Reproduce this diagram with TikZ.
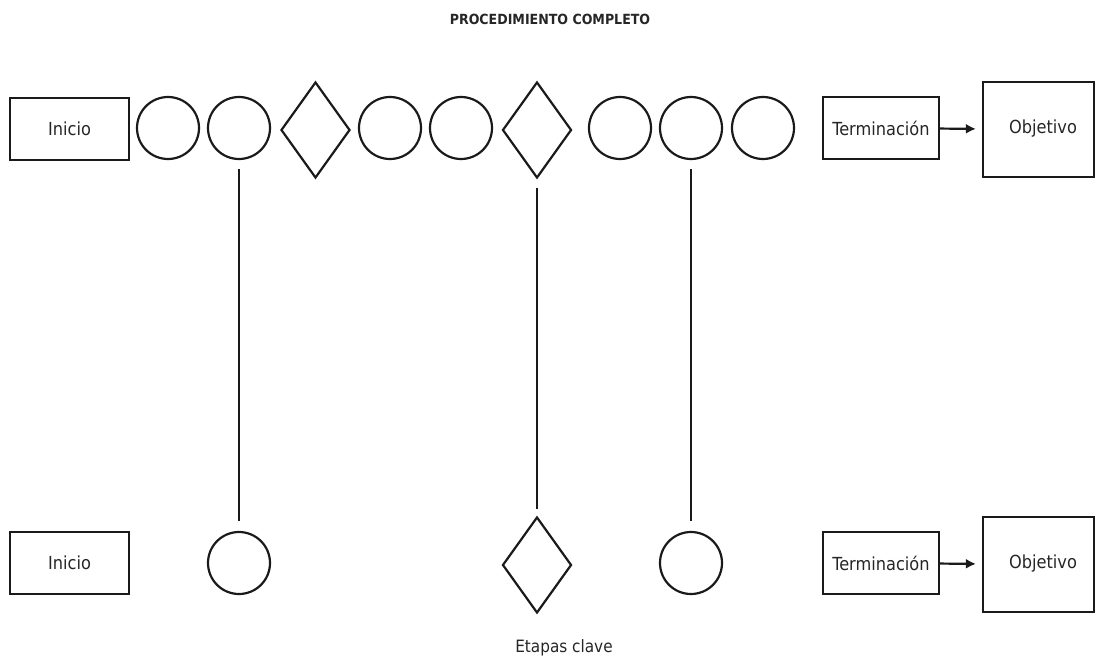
\documentclass[tikz,border=0pt]{standalone}
\usepackage{fontspec}
\setmainfont{DejaVu Sans Condensed}
\usetikzlibrary{shapes.geometric,arrows.meta}
\definecolor{ink}{HTML}{1A1A1A}
\definecolor{txt}{HTML}{262626}
\tikzset{
  every node/.style={inner sep=0pt, font=\fontsize{18}{21}\selectfont, text=txt},
  box/.style={draw=ink, line width=2.2pt, rectangle},
  stepcircle/.style={draw=ink, line width=2.2pt, circle, minimum size=62pt},
  decision/.style={draw=ink, line width=2.2pt, diamond, minimum width=69pt, minimum height=96pt},
  link/.style={draw=ink, line width=2.2pt},
  flow/.style={draw=ink, line width=2.2pt, -{Latex[length=10pt,width=10pt]}}
}
\begin{document}
\begin{tikzpicture}[x=1pt,y=-1pt]
\useasboundingbox (0,0) rectangle (1096,661);

% title
\node[font=\bfseries\fontsize{14}{16}\selectfont] (title) at (550,19) {PROCEDIMIENTO COMPLETO};

% full procedure, top row
\node[box, minimum width=119pt, minimum height=62pt] (ini1) at (69.5,129) {Inicio};
\node[stepcircle] (c1) at (168,128) {};
\node[stepcircle] (c2) at (239,128) {};
\node[decision] (d1) at (315.5,130) {};
\node[stepcircle] (c3) at (390,128) {};
\node[stepcircle] (c4) at (461,128) {};
\node[decision] (d2) at (537,130) {};
\node[stepcircle] (c5) at (620,128) {};
\node[stepcircle] (c6) at (691,128) {};
\node[stepcircle] (c7) at (763,128) {};
\node[box, minimum width=116pt, minimum height=62pt] (term1) at (881,128) {Terminación};
\node[box, minimum width=111pt, minimum height=95pt] (obj1) at (1038.5,129.5) {};
\node (objtext1) at (1043,129) {Objetivo};
\draw[flow, shorten >=6pt] (term1) -- (obj1);

% key stages, bottom row
\node[box, minimum width=119pt, minimum height=62pt] (ini2) at (69.5,563) {Inicio};
\node[stepcircle] (k1) at (239,563) {};
\node[decision] (k2) at (537,565) {};
\node[stepcircle] (k3) at (691,563) {};
\node[box, minimum width=116pt, minimum height=62pt] (term2) at (881,563) {Terminación};
\node[box, minimum width=111pt, minimum height=95pt] (obj2) at (1038.5,564.5) {};
\node (objtext2) at (1043,564) {Objetivo};
\draw[flow, shorten >=6pt] (term2) -- (obj2);

\node[font=\fontsize{17}{20}\selectfont] (label) at (564,648) {Etapas clave};

% vertical links between the rows
\draw[link, shorten <=9pt, shorten >=10pt] (c2) -- (k1);
\draw[link, shorten <=9pt, shorten >=7pt] (d2) -- (k2);
\draw[link, shorten <=9pt, shorten >=10pt] (c6) -- (k3);
\end{tikzpicture}
\end{document}
